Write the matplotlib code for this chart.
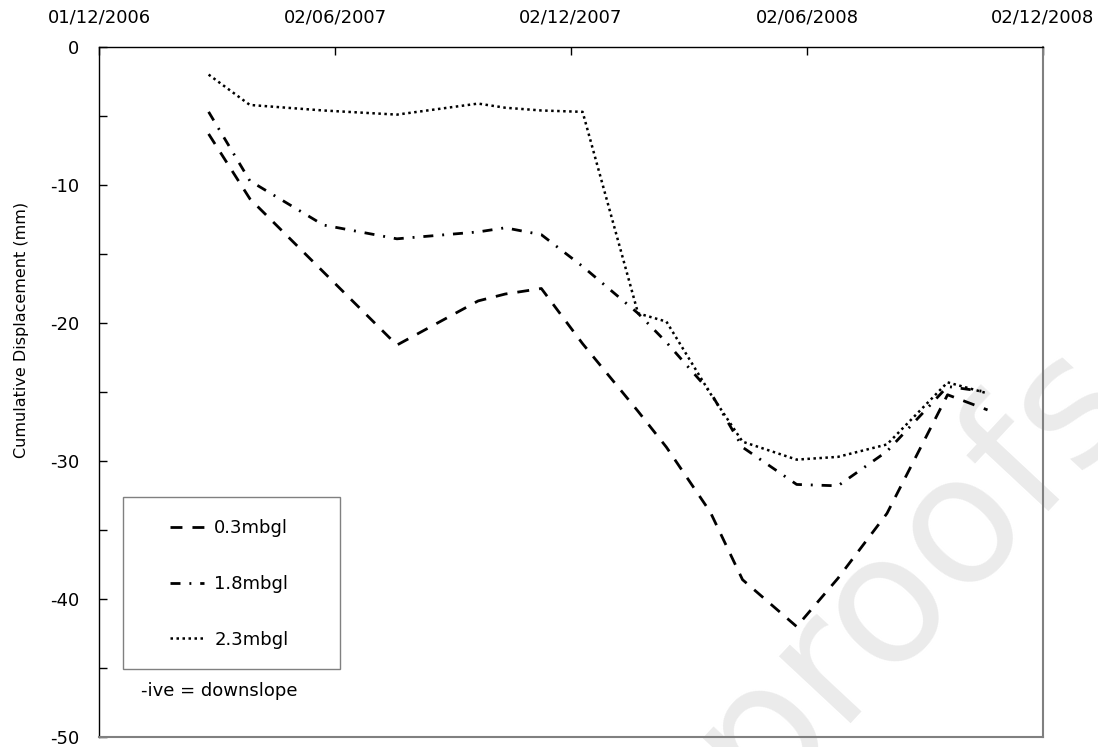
import numpy as np
import matplotlib
matplotlib.use("Agg")
import matplotlib.pyplot as plt
import matplotlib.dates as mdates
from matplotlib.patches import Rectangle
from matplotlib.ticker import MultipleLocator

# monitoring dates
dates = np.array(["2007-02-24", "2007-03-28", "2007-05-24", "2007-07-20",
                  "2007-09-21", "2007-10-12", "2007-11-09", "2007-12-11",
                  "2008-01-23", "2008-02-14", "2008-03-19", "2008-04-13",
                  "2008-05-25", "2008-06-26", "2008-08-03", "2008-09-19",
                  "2008-10-20"], dtype="datetime64[D]")

# cumulative displacement (mm), -ive = downslope
d_03 = [-6.3, -11.0, -16.3, -21.6, -18.4, -17.9, -17.5, -21.5,
        -26.4, -29.0, -33.7, -38.6, -42.0, -38.5, -33.8, -25.2, -26.3]
d_18 = [-4.7, -9.7, -12.9, -13.9, -13.4, -13.1, -13.6, -15.9,
        -19.3, -21.4, -25.0, -29.0, -31.7, -31.8, -29.3, -24.6, -25.0]
d_23 = [-2.0, -4.2, -4.6, -4.9, -4.1, -4.4, -4.6, -4.7,
        -19.3, -19.9, -25.1, -28.6, -29.9, -29.7, -28.8, -24.3, -25.1]

labels = ["0.3mbgl", "1.8mbgl", "2.3mbgl"]
tick_dates = np.array(["2006-12-01", "2007-06-02", "2007-12-02",
                       "2008-06-02", "2008-12-02"], dtype="datetime64[D]")

plt.rcParams["font.family"] = "DejaVu Sans"
plt.rcParams["axes.unicode_minus"] = False

W, H = 1098, 747
fig = plt.figure(figsize=(W / 100, H / 100), dpi=100)
ax = fig.add_axes([99 / W, 1 - 737 / H, 944 / W, 690 / H])
ax.patch.set_alpha(0)

# faint watermark behind everything
fig.text(0.83, 0.24, "proofs", fontsize=128, color="#ebebeb",
         rotation=47, ha="center", va="center", zorder=-10)

x = dates.astype("datetime64[ms]").astype(object)
ax.plot(x, d_03, color="black", lw=2.0, dashes=(4.3, 3.6), label=labels[0])
ax.plot(x, d_18, color="black", lw=2.0, dashes=(3.6, 3.2, 0.7, 3.2),
        label=labels[1])
ax.plot(x, d_23, color="black", lw=1.8, dashes=(1, 1.4), label=labels[2])

ax.set_xlim(tick_dates[0].astype(object), tick_dates[-1].astype(object))
ax.set_ylim(-50, 0)
ax.set_xticks([d.astype(object) for d in tick_dates])
ax.xaxis.set_major_formatter(mdates.DateFormatter("%d/%m/%Y"))
ax.xaxis.tick_top()
ax.yaxis.set_major_locator(MultipleLocator(10))
ax.yaxis.set_minor_locator(MultipleLocator(5))
ax.tick_params(axis="x", direction="in", length=6, width=1, pad=15,
               labelsize=13, top=True, bottom=False)
ax.tick_params(axis="y", which="both", direction="in", length=6, width=1,
               pad=14, labelsize=13)

for s in ("left", "top"):
    ax.spines[s].set_color("black")
    ax.spines[s].set_linewidth(1.0)
for s in ("right", "bottom"):
    ax.spines[s].set_color("#808080")
    ax.spines[s].set_linewidth(1.5)

fig.text(22 / W, 1 - 330 / H, "Cumulative Displacement (mm)",
         rotation=90, ha="center", va="center", fontsize=11.5)

# legend box drawn separately so its padding can differ per side
fig.patches.append(Rectangle((123 / W, 1 - 669 / H), 217 / W, 172 / H,
                             transform=fig.transFigure, fill=False,
                             edgecolor="#808080", lw=1.0))
leg = ax.legend(loc="upper left", bbox_to_anchor=(142 / W, 1 - 491 / H),
                bbox_transform=fig.transFigure, frameon=False,
                handlelength=1.9, handletextpad=0.55, labelspacing=2.1,
                borderpad=1.55, borderaxespad=0, fontsize=13)

fig.text(141 / W, 1 - 691 / H, "-ive = downslope",
         ha="left", va="center", fontsize=13)

fig.savefig("out.png", dpi=100)
